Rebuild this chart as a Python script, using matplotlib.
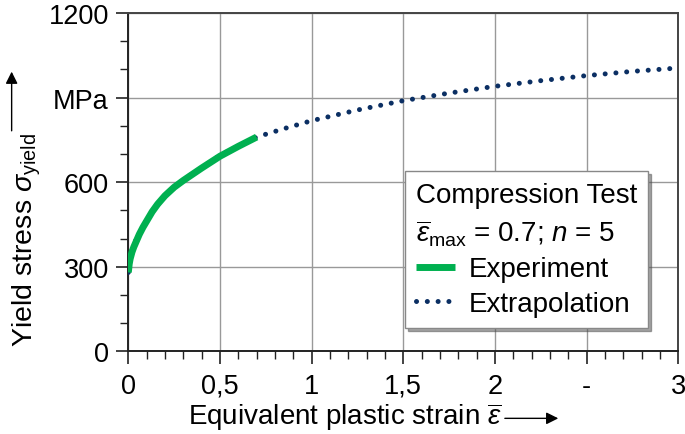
import matplotlib
matplotlib.use("Agg")
import matplotlib.pyplot as plt
from matplotlib.ticker import MultipleLocator

plt.rcParams['font.family'] = ['Liberation Sans', 'DejaVu Sans']
plt.rcParams['mathtext.fontset'] = 'custom'
plt.rcParams['mathtext.rm'] = 'Liberation Sans'
plt.rcParams['mathtext.it'] = 'Liberation Sans:italic'

# data
eps_exp = [0, 0.005, 0.01, 0.02, 0.03, 0.04, 0.06, 0.08, 0.1, 0.13, 0.16, 0.2, 0.25, 0.3, 0.4, 0.5, 0.6, 0.7]
sig_exp = [280, 310, 328, 352, 370, 385, 415, 440, 462, 495, 522, 552, 582, 606, 650, 692, 727, 760]

eps_ext = [0, 0.01, 0.02, 0.04, 0.07, 0.1, 0.15, 0.2, 0.3, 0.5, 0.7, 0.85, 1.0, 1.25, 1.5, 1.75, 2.0, 2.25, 2.5, 2.75, 3.0]
sig_ext = [280, 335, 360, 393, 430, 465, 512, 550, 609, 695, 760, 790, 818, 856, 889, 916, 940, 960, 978, 993, 1005]

x_ticks = [0, 0.5, 1, 1.5, 2, 2.5, 3]
x_labels = ["0", "0,5", "1", "1,5", "2", "-", "3"]
y_ticks = [0, 300, 600, 900, 1200]
y_labels = ["0", "300", "600", "MPa", "1200"]

fs = 19.5

fig = plt.figure(figsize=(6.85, 4.35), dpi=100)
ax = fig.add_axes([0.1873, 0.190, 0.8029, 0.7778])

ax.plot(eps_ext, sig_ext, color='#0b2f63', lw=3.6, linestyle=(0, (0.01, 2.15)),
        dash_capstyle='round', label='Extrapolation', zorder=3)
ax.plot(eps_exp, sig_exp, color='#00b050', lw=5, label='Experiment',
        solid_capstyle='butt', zorder=4)

ax.set_xlim(0, 3)
ax.set_ylim(0, 1200)
ax.set_xticks(x_ticks)
ax.set_xticklabels(x_labels, fontsize=fs)
ax.set_yticks(y_ticks)
ax.set_yticklabels(y_labels, fontsize=fs)
ax.xaxis.set_minor_locator(MultipleLocator(0.1))
ax.yaxis.set_minor_locator(MultipleLocator(100))
ax.tick_params(which='major', direction='out', length=9, width=1.2, color='#222222', pad=5)
ax.tick_params(axis='x', which='major', pad=6.5)
ax.tick_params(which='minor', direction='out', length=6, width=1.0, color='#222222')
ax.grid(True, which='major', color='#999999', lw=1.0)
ax.set_axisbelow(True)

for side in ['left', 'bottom']:
    ax.spines[side].set_color('#222222')
    ax.spines[side].set_linewidth(1.4)
for side in ['top', 'right']:
    ax.spines[side].set_color('#444444')
    ax.spines[side].set_linewidth(1.4)

# axis labels with arrows
arrow = dict(arrowstyle='-|>', color='black', lw=1.0, mutation_scale=18, shrinkA=0, shrinkB=0)
fig.text(0.048, 0.202, r'Yield stress $\sigma_{\rm yield}$', rotation=90,
         rotation_mode='anchor', fontsize=20.5, ha='left', va='baseline')
ax.annotate('', xy=(0.017, 0.833), xytext=(0.017, 0.697), xycoords='figure fraction',
            arrowprops=arrow)
fig.text(0.2745, 0.022, r'Equivalent plastic strain $\overline{\varepsilon}$',
         fontsize=20, ha='left', va='baseline')
ax.annotate('', xy=(0.815, 0.036), xytext=(0.737, 0.036), xycoords='figure fraction',
            arrowprops=arrow)

handles, labels = ax.get_legend_handles_labels()
leg = ax.legend(handles[::-1], labels[::-1],
                title='Compression Test\n' + r'$\overline{\varepsilon}_{\rm max}$ = 0.7; $n$ = 5',
                title_fontsize=20, fontsize=20, loc='upper left',
                bbox_to_anchor=(0.503, 0.533), borderaxespad=0, fancybox=False,
                shadow=True, framealpha=1, edgecolor='#888888',
                alignment='left', handlelength=1.4, handletextpad=0.5,
                labelspacing=0.3, borderpad=0.4)
leg.get_title().set_linespacing(1.4)
leg.get_frame().set_linewidth(1.0)

fig.savefig('out.png', dpi=100)
